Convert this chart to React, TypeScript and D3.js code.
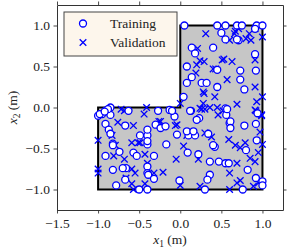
import React, { useEffect, useRef } from 'react';
import * as d3 from 'd3';

// L-shaped domain boundary (x1, x2)
const domainCorners: [number, number][] = [
  [-1, -1], [1, -1], [1, 1], [0, 1], [0, 0], [-1, 0],
];

// training samples (circles)
const trainX1 = [
  0.05, 0.45, 0.55, 0.69, 0.75, 0.93, 1.0, 0.5, 0.71, 0.91, 0.14, 0.4, 0.91, 0.18, 0.08, 0.45,
  0.73, 0.92, 0.14, 0.73, 0.08, 0.26, 0.32, 0.45, 0.78, 0.04, 0.13, 0.55, 0.23, 0.56, 0.94, -0.13,
  -0.07, -1.0, -0.95, -0.91, -0.85, -0.85, -0.63, -0.91, -0.67, -0.87, -0.49, -0.4, -0.82, -0.74, -0.57, -0.53,
  -0.91, -0.4, -0.82, -0.66, -0.7, -0.67, -0.4, -0.4, -0.78, -0.5, -0.4, -0.88, -0.98, -0.92, -0.85, -0.82,
  -0.4, -0.3, -0.24, -0.18, -0.04, 0.1, 0.18, 0.34, 0.22, 0.09, 0.42, -0.17, -0.32, 0.36, 0.47, 0.55,
  0.59, 0.36, 0.33, -0.39, -0.32, -0.01, 0.3, 0.76, 0.82, 0.8, 0.92, 0.78, 0.6, 0.92, 1.0, 1.0,
  0.2, -0.27, -0.1, 0.12, 0.08, 0.16, 0.4, 0.57, 0.61, 0.61, 0.93, -0.4, 0.55, 0.69,
];
const trainX2 = [
  1.0, 1.0, 1.0, 1.0, 1.0, 1.0, 1.0, 0.91, 0.82, 0.96, 0.73, 0.73, 0.65, 0.66, 0.5, 0.46,
  0.45, 0.45, 0.37, 0.34, 0.3, 0.3, 0.3, 0.25, 0.22, 0.13, -0.04, -0.01, -0.13, -0.09, -0.07, -0.03,
  -0.11, -0.1, -0.08, -0.04, 0.0, -0.09, -0.04, -0.2, -0.22, -0.27, -0.34, -0.34, -0.44, -0.54, -0.55, -0.59,
  -0.59, -0.45, -0.76, -0.74, -0.74, -0.88, -0.72, -0.8, -0.95, -1.0, -1.0, -0.02, -0.08, -0.05, -0.32, -0.46,
  -0.27, -0.21, -0.25, -0.23, -0.33, -0.34, -0.34, -0.32, -0.57, -0.55, -0.48, -0.45, -0.59, -0.66, -0.66, -0.68,
  -0.68, -0.82, -0.88, -0.82, -0.87, -0.89, -1.0, -1.0, -0.76, -0.52, -0.2, -0.22, -0.19, -0.86, -0.9, -0.95,
  -0.15, -0.04, -0.04, -0.04, -0.29, -0.29, -0.46, -0.02, -0.17, -0.25, -0.4, -0.41, 0.83, 0.83,
];

// validation samples (crosses)
const valX1 = [
  0.31, 0.66, 0.84, 0.6, 0.8, 0.86, 1.0, 0.21, 0.51, 0.63, 0.91, 0.24, 0.29, 0.2, 0.4, 0.19,
  0.57, 0.28, 0.42, 0.91, 1.0, 0.93, 0.0, 0.28, 0.69, 0.24, 0.36, 0.45, 0.91, 0.46, 0.99, -0.41,
  0.67, 0.71, 0.91, 0.53, -0.76, -0.68, -0.57, -0.44, -0.83, -1.0, -0.59, -0.49, -0.79, -0.81, -0.68, -0.59,
  -0.55, -1.0, -1.0, -0.66, -0.59, -0.57, -0.43, -0.43, -0.24, -0.04, 0.08, 0.3, 0.38, 0.59, 0.67, 0.73,
  0.79, -0.4, 0.04, -0.05, 0.22, -0.21, -0.32, 0.69, 0.91, 0.6, 0.73, 0.69, 0.0, 0.24, 0.6, 0.89,
  0.95, -0.06, -0.51, -0.26, 0.26, 0.3, 0.52, 0.92, 0.99, -0.72, 0.97, 0.95, 1.0, 0.85, 0.43, 0.29,
];
const valX2 = [
  0.9, 0.9, 0.9, 0.82, 0.84, 0.82, 0.86, 0.72, 0.58, 0.56, 0.58, 0.57, 0.56, 0.52, 0.47, 0.42,
  0.34, 0.19, 0.13, 0.25, 0.13, 0.07, 0.05, 0.05, 0.04, -0.01, 0.0, 0.0, -0.03, -0.09, -0.09, 0.0,
  0.93, 0.96, 0.96, 0.59, -0.18, -0.04, -0.22, -0.08, -0.34, -0.4, -0.43, -0.43, -0.46, -0.59, -0.63, -0.75,
  -0.8, -0.75, -0.8, -0.86, -0.93, -1.0, -0.57, -0.93, -0.17, -0.21, -0.34, -0.31, -0.36, -0.39, -0.46, -0.49,
  -0.43, -0.68, -0.47, -0.63, -0.63, -0.79, -0.8, -0.68, -0.66, -0.8, -0.89, -0.92, -0.95, -0.96, -1.0, -0.96,
  -0.92, -0.22, -0.43, -0.17, -0.02, -0.02, -0.04, -0.04, -0.1, -0.02, -0.3, -0.55, -0.45, -0.62, 0.47, 0.17,
];

const xTicks = [-1.5, -1.0, -0.5, 0.0, 0.5, 1.0];
const yTicks = [-1.0, -0.5, 0.0, 0.5, 1.0];

const App = () => {
  const chartRef = useRef<SVGSVGElement>(null);

  useEffect(() => {
    const width = 291;
    const height = 252;
    const margin = { top: 5, right: 8, bottom: 42, left: 57 };
    const font = '"Liberation Serif", serif';
    const spine = '#333';
    const blue = '#0000ff';

    const svg = d3.select(chartRef.current);
    svg.selectAll('*').remove();

    const x = d3.scaleLinear().domain([-1.5, 1.25]).range([margin.left, width - margin.right]);
    const y = d3.scaleLinear().domain([-1.25, 1.25]).range([height - margin.bottom, margin.top]);

    const fmt = (d: number) => d.toFixed(1).replace('-', '\u2212');

    // L-shaped region
    svg
      .append('path')
      .attr('d', d3.line()(domainCorners.map((c) => [x(c[0]), y(c[1])])) + 'Z')
      .attr('fill', '#c6c6c6')
      .attr('stroke', '#000')
      .attr('stroke-width', 2)
      .attr('stroke-linejoin', 'miter');

    // validation crosses
    const s = 3.3;
    const val = valX1.map((v, i) => [v, valX2[i]]);
    svg
      .append('g')
      .selectAll('path')
      .data(val)
      .enter()
      .append('path')
      .attr('d', (d) => {
        const cx = x(d[0]);
        const cy = y(d[1]);
        return `M${cx - s},${cy - s}L${cx + s},${cy + s}M${cx - s},${cy + s}L${cx + s},${cy - s}`;
      })
      .attr('stroke', blue)
      .attr('stroke-width', 1.3)
      .attr('fill', 'none');

    // training circles
    const train = trainX1.map((v, i) => [v, trainX2[i]]);
    svg
      .append('g')
      .selectAll('circle')
      .data(train)
      .enter()
      .append('circle')
      .attr('cx', (d) => x(d[0]))
      .attr('cy', (d) => y(d[1]))
      .attr('r', 3.5)
      .attr('fill', '#fff')
      .attr('stroke', blue)
      .attr('stroke-width', 1.3);

    // axes: labelled bottom/left, plain ticks on top/right
    const bottom = svg
      .append('g')
      .attr('transform', `translate(0,${height - margin.bottom})`)
      .call(d3.axisBottom(x).tickValues(xTicks).tickFormat(fmt).tickSizeInner(3.5).tickSizeOuter(0).tickPadding(4.5));
    const left = svg
      .append('g')
      .attr('transform', `translate(${margin.left},0)`)
      .call(d3.axisLeft(y).tickValues(yTicks).tickFormat(fmt).tickSizeInner(3.5).tickSizeOuter(0).tickPadding(3.5));
    const top = svg
      .append('g')
      .attr('transform', `translate(0,${margin.top})`)
      .call(d3.axisTop(x).tickValues(xTicks).tickFormat(() => '').tickSizeInner(3.5).tickSizeOuter(0));
    const right = svg
      .append('g')
      .attr('transform', `translate(${width - margin.right},0)`)
      .call(d3.axisRight(y).tickValues(yTicks).tickFormat(() => '').tickSizeInner(3.5).tickSizeOuter(0));

    [bottom, left, top, right].forEach((g) => {
      g.selectAll('path').attr('stroke', spine).attr('stroke-width', 1);
      g.selectAll('line').attr('stroke', spine).attr('stroke-width', 0.9);
      g.selectAll('text').attr('fill', '#222').style('font-family', font).style('font-size', '13.5px');
    });

    // axis titles
    const xl = svg
      .append('text')
      .attr('x', (margin.left + width - margin.right) / 2)
      .attr('y', 244)
      .attr('text-anchor', 'middle')
      .style('font-family', font)
      .style('font-size', '13.5px')
      .attr('fill', '#222');
    xl.append('tspan').style('font-style', 'italic').text('x');
    xl.append('tspan').attr('dy', 3).style('font-size', '9.5px').text('1');
    xl.append('tspan').attr('dy', -3).text(' (m)');

    const ylx = 17;
    const yly = (margin.top + height - margin.bottom) / 2;
    const yl = svg
      .append('text')
      .attr('transform', `translate(${ylx},${yly}) rotate(-90)`)
      .attr('text-anchor', 'middle')
      .style('font-family', font)
      .style('font-size', '13.5px')
      .attr('fill', '#222');
    yl.append('tspan').style('font-style', 'italic').text('x');
    yl.append('tspan').attr('dy', 3).style('font-size', '9.5px').text('2');
    yl.append('tspan').attr('dy', -3).text(' (m)');

    // legend
    const lg = svg.append('g');
    lg.append('rect')
      .attr('x', 64)
      .attr('y', 12)
      .attr('width', 113)
      .attr('height', 44)
      .attr('fill', '#fdf6ec')
      .attr('stroke', '#444')
      .attr('stroke-width', 1);
    lg.append('circle')
      .attr('cx', 83)
      .attr('cy', 23.5)
      .attr('r', 3.5)
      .attr('fill', '#fff')
      .attr('stroke', blue)
      .attr('stroke-width', 1.3);
    lg.append('path')
      .attr('d', `M${83 - s},${42.5 - s}L${83 + s},${42.5 + s}M${83 - s},${42.5 + s}L${83 + s},${42.5 - s}`)
      .attr('stroke', blue)
      .attr('stroke-width', 1.3);
    ['Training', 'Validation'].forEach((t, i) => {
      lg.append('text')
        .attr('x', 110)
        .attr('y', 27.5 + i * 19)
        .style('font-family', font)
        .style('font-size', '13.5px')
        .attr('fill', '#222')
        .text(t);
    });
  }, []);

  return (
    <div style={{ position: 'absolute', left: 0, top: 0 }}>
      <svg ref={chartRef} width={291} height={252} style={{ display: 'block', background: '#fff' }} />
    </div>
  );
};

export default App;
